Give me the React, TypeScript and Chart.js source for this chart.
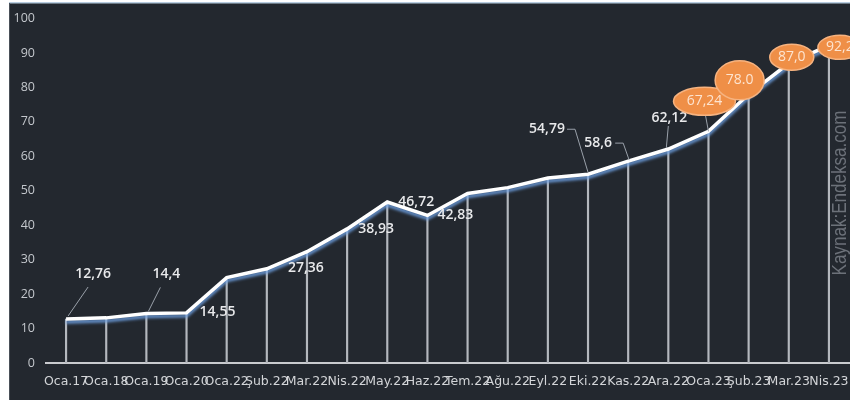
import { useEffect, useRef } from "react";
import { Chart, registerables } from "chart.js";

Chart.register(...registerables);

const categories = [
  "Oca.17", "Oca.18", "Oca.19", "Oca.20", "Oca.22", "Şub.22", "Mar.22", "Nis.22", "May.22", "Haz.22",
  "Tem.22", "Ağu.22", "Eyl.22", "Eki.22", "Kas.22", "Ara.22", "Oca.23", "Şub.23", "Mar.23", "Nis.23",
];
const values = [
  12.76, 13.1, 14.4, 14.55, 24.8, 27.36, 32.3, 38.93, 46.72, 42.83,
  49.2, 50.9, 53.7, 54.79, 58.6, 62.12, 67.24, 78.0, 87.0, 92.2,
];
const valueLabels = [
  "12,76", "", "14,4", "14,55", "", "27,36", "", "38,93", "46,72", "42,83",
  "", "", "", "54,79", "58,6", "62,12", "67,24", "78.0", "87,0", "92,2",
];
const yMin = 0;
const yMax = 100;
const yStep = 10;
const watermark = "Kaynak:Endeksa.com";

// label placement (offsets relative to the data point)
type Place = { dx: number; dy: number; leader?: number[][]; ellipse?: [number, number] };
const placement: Record<number, Place> = {
  0: { dx: 27, dy: -45, leader: [[2, -3], [22, -32]] },
  2: { dx: 20, dy: -39, leader: [[2, -2], [14, -26]] },
  3: { dx: 31, dy: -1 },
  5: { dx: 39, dy: -1 },
  7: { dx: 29, dy: 0 },
  8: { dx: 29, dy: 0 },
  9: { dx: 28, dy: 0 },
  13: { dx: -41, dy: -45, leader: [[-21, -45], [-13, -45], [0, -2]] },
  14: { dx: -30, dy: -18, leader: [[-13, -18], [-5, -18], [1, -1]] },
  15: { dx: 1, dy: -31, leader: [[0, -23], [-2, -1]] },
  16: { dx: -4, dy: -30, ellipse: [31, 14], leader: [[-3, -16], [0, 0]] },
  17: { dx: -9, dy: -14, ellipse: [24.5, 19.5] },
  18: { dx: 3, dy: -6, ellipse: [22, 13] },
  19: { dx: 11, dy: 2, ellipse: [22, 12] },
};

const PANEL = { left: 9, top: 3, right: 850, bottom: 400 };

const panelPlugin = {
  id: "panel",
  beforeDraw(chart: any) {
    const ctx = chart.ctx;
    ctx.save();
    ctx.fillStyle = "#ffffff";
    ctx.fillRect(0, 0, chart.width, chart.height);
    ctx.fillStyle = "#23282f";
    ctx.fillRect(PANEL.left, PANEL.top, PANEL.right - PANEL.left, PANEL.bottom - PANEL.top);
    ctx.fillStyle = "#b8cde0";
    ctx.fillRect(PANEL.left, PANEL.top - 1, PANEL.right - PANEL.left, 1.5);
    ctx.fillStyle = "#4a5058";
    ctx.fillRect(PANEL.left, PANEL.top, 1, PANEL.bottom - PANEL.top);
    ctx.restore();
  },
  beforeDatasetsDraw(chart: any) {
    const ctx = chart.ctx;
    ctx.save();
    ctx.translate(840, 193);
    ctx.rotate(-Math.PI / 2);
    ctx.fillStyle = "#6c7179";
    ctx.font = '21px "Liberation Sans", sans-serif';
    const w = ctx.measureText(watermark).width;
    ctx.scale(165 / w, 1);
    ctx.textAlign = "center";
    ctx.textBaseline = "middle";
    ctx.fillText(watermark, 0, 0);
    ctx.restore();
  },
  beforeDatasetDraw(chart: any, args: any) {
    if (args.index === 0) {
      const ctx = chart.ctx;
      ctx.save();
      ctx.shadowColor = "rgba(110,160,225,0.9)";
      ctx.shadowOffsetY = 3;
      ctx.shadowOffsetX = 0;
      ctx.shadowBlur = 3;
    }
  },
  afterDatasetDraw(chart: any, args: any) {
    if (args.index === 0) chart.ctx.restore();
  },
  afterDatasetsDraw(chart: any) {
    const ctx = chart.ctx;
    const meta = chart.getDatasetMeta(0);
    ctx.save();
    ctx.beginPath();
    ctx.rect(PANEL.left, PANEL.top, PANEL.right - PANEL.left, PANEL.bottom - PANEL.top);
    ctx.clip();
    valueLabels.forEach((txt, i) => {
      if (!txt) return;
      const p = placement[i];
      if (!p) return;
      const pt = meta.data[i];
      const x = pt.x;
      const y = pt.y;
      if (p.leader) {
        ctx.strokeStyle = "#9aa1aa";
        ctx.lineWidth = 1;
        ctx.beginPath();
        p.leader.forEach((q, k) => {
          if (k === 0) ctx.moveTo(x + q[0], y + q[1]);
          else ctx.lineTo(x + q[0], y + q[1]);
        });
        ctx.stroke();
      }
      const cx = x + p.dx;
      const cy = y + p.dy;
      if (p.ellipse) {
        ctx.beginPath();
        ctx.ellipse(cx, cy, p.ellipse[0], p.ellipse[1], 0, 0, Math.PI * 2);
        ctx.fillStyle = "#ef8f47";
        ctx.fill();
        ctx.strokeStyle = "#f6b380";
        ctx.lineWidth = 1.5;
        ctx.stroke();
        ctx.fillStyle = "#fde4d0";
        ctx.font = '14px "Open Sans", "Liberation Sans", sans-serif';
      } else {
        ctx.fillStyle = "#e8e9eb";
        ctx.font = '600 14px "Open Sans", "Liberation Sans", sans-serif';
      }
      ctx.textAlign = "center";
      ctx.textBaseline = "middle";
      ctx.fillText(txt, cx, cy);
    });
    ctx.restore();
  },
};

export default function App() {
  const ref = useRef<HTMLCanvasElement | null>(null);
  useEffect(() => {
    if (!ref.current) return;
    const chart = new Chart(ref.current, {
      type: "bar",
      data: {
        labels: categories,
        datasets: [
          {
            type: "line",
            data: values,
            borderColor: "#ffffff",
            borderWidth: 3.5,
            pointRadius: 0,
            tension: 0,
            order: 0,
          } as any,
          {
            type: "bar",
            data: values,
            backgroundColor: "#b4b8be",
            barThickness: 1.5,
            order: 1,
          } as any,
        ],
      },
      plugins: [panelPlugin],
      options: {
        responsive: false,
        animation: false,
        devicePixelRatio: 1,
        layout: { padding: { top: 15, right: 13, left: 0, bottom: 0 } },
        plugins: { legend: { display: false }, tooltip: { enabled: false } },
        scales: {
          x: {
            offset: true,
            grid: { display: false, drawTicks: false },
            border: { display: true, color: "#c9cbcf", width: 2 },
            ticks: {
              autoSkip: false,
              maxRotation: 0,
              minRotation: 0,
              padding: 11,
              color: "#d3d5d8",
              font: { family: '"DejaVu Sans", sans-serif', size: 12.5 },
            },
            afterFit(scale: any) {
              scale.height = 37;
            },
          },
          y: {
            min: yMin,
            max: yMax,
            grid: { display: false, drawTicks: false },
            border: { display: false },
            ticks: {
              stepSize: yStep,
              padding: 11,
              color: "#c4c8cd",
              font: { family: '"Open Sans", sans-serif', size: 12.5 },
            },
            afterFit(scale: any) {
              scale.width = 46;
            },
          },
        },
      },
    });
    return () => chart.destroy();
  }, []);
  return (
    <div style={{ position: "fixed", left: 0, top: 0, width: 862, height: 400 }}>
      <canvas ref={ref} width={862} height={400} style={{ width: 862, height: 400, display: "block" }} />
    </div>
  );
}
